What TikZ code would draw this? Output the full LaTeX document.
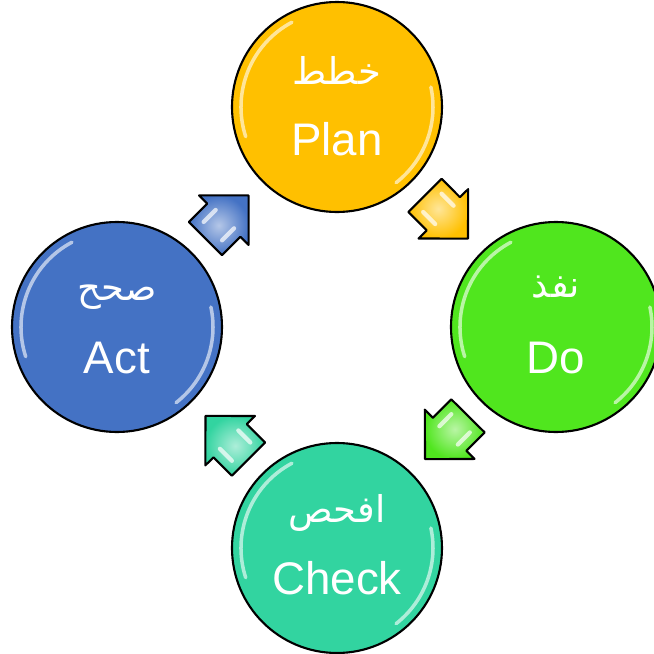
\documentclass[tikz,border=0pt]{standalone}
\usepackage{fontspec}
\setmainfont{Liberation Sans}
\newfontfamily\arabicfont[Script=Arabic]{DejaVu Sans}
\TeXXeTstate=1

\definecolor{planc}{HTML}{FFC000}
\definecolor{doc}{HTML}{50E61E}
\definecolor{checkc}{HTML}{32D4A0}
\definecolor{actc}{HTML}{4472C4}

\tikzset{
  disc/.style={circle, draw=black, line width=0.6pt, minimum size=2.1cm, inner sep=0pt, fill=#1},
  entext/.style={text=white, font=\fontsize{13}{15}\selectfont, inner sep=0pt},
  artext/.style={text=white, font=\arabicfont\fontsize{10.5}{12}\selectfont, inner sep=0pt},
  gloss/.style={white, opacity=0.6, line width=1pt, line cap=round},
  pics/blockarrow/.style={code={
    \draw[line width=0.6pt, line join=round, inner color=#1!40!white, outer color=#1]
      (-0.305,-0.235) -- (-0.045,-0.235) -- (-0.045,-0.35) -- (0.305,0)
      -- (-0.045,0.35) -- (-0.045,0.235) -- (-0.305,0.235) -- cycle;
    \draw[white, opacity=0.7, line width=1.2pt, line cap=round]
      (-0.2,0.13) -- (-0.03,0.13) (-0.2,-0.13) -- (-0.03,-0.13);
  }}
}

\begin{document}
\begin{tikzpicture}
            \useasboundingbox (0,0) rectangle (6.54,6.54);

            % Circles
            \node[disc=planc] (plan) at (3.37,5.47) {};
            \node[disc=doc] (do) at (5.56,3.27) {};
            \node[disc=checkc] (check) at (3.37,1.06) {};
            \node[disc=actc] (act) at (1.17,3.27) {};

            % Highlights
            \foreach \n in {plan,do,check,act} {
              \draw[gloss] ([shift={(118:0.96)}]\n.center) arc (118:198:0.96);
              \draw[gloss] ([shift={(-52:0.96)}]\n.center) arc (-52:12:0.96);
            }

            % Labels
            \node[artext] (plan-ar) at ([yshift=0.37cm]plan.center) {\beginR خطط\endR};
            \node[entext] (plan-en) at ([yshift=-0.32cm]plan.center) {Plan};
            \node[artext] (do-ar) at ([yshift=0.40cm]do.center) {\beginR نفذ\endR};
            \node[entext] (do-en) at ([yshift=-0.31cm]do.center) {Do};
            \node[artext] (check-ar) at ([yshift=0.35cm]check.center) {\beginR افحص\endR};
            \node[entext] (check-en) at ([yshift=-0.30cm]check.center) {Check};
            \node[artext] (act-ar) at ([yshift=0.30cm]act.center) {\beginR صحح\endR};
            \node[entext] (act-en) at ([yshift=-0.31cm]act.center) {Act};

            % Arrows
            \path (act) -- (plan) pic[midway, sloped, allow upside down] {blockarrow=actc};
            \path (plan) -- (do) pic[midway, sloped, allow upside down] {blockarrow=planc};
            \path (do) -- (check) pic[midway, sloped, allow upside down] {blockarrow=doc};
            \path (check) -- (act) pic[midway, sloped, allow upside down] {blockarrow=checkc};
\end{tikzpicture}
\end{document}
